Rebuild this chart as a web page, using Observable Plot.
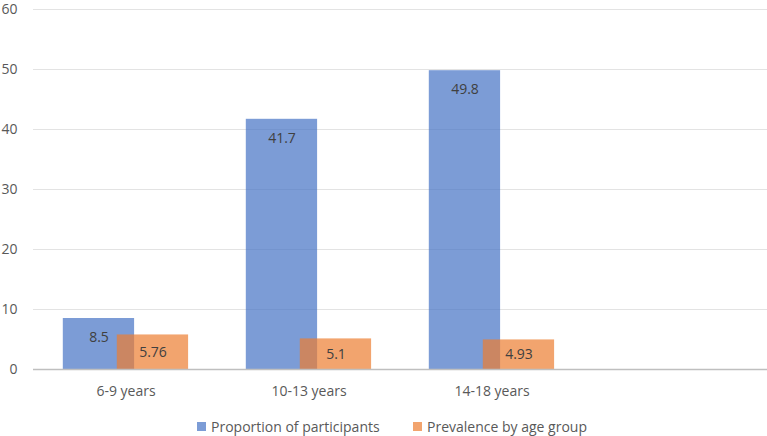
<!DOCTYPE html>
<html>
<head>
<meta charset="utf-8">
<script src="https://cdn.jsdelivr.net/npm/d3@7"></script>
<script src="https://cdn.jsdelivr.net/npm/@observablehq/plot@0.6"></script>
<style>
  html, body { margin: 0; padding: 0; background: #fff; }
  body { width: 767px; height: 436px; overflow: hidden; font-family: "Open Sans", sans-serif; }
  #legend { height: 31px; color: #595959; font-size: 14px; position: relative; }
  .item { display: flex; align-items: center; position: absolute; }
  .sw { width: 9px; height: 9px; margin-right: 5px; display: inline-block; }
</style>
</head>
<body>
<div id="chart"></div>
<div id="legend"></div>
<script>
const categories = ["6-9 years", "10-13 years", "14-18 years", ""];
const proportion = [8.5, 41.7, 49.8];
const prevalence = [5.76, 5.1, 4.93];
const seriesNames = ["Proportion of participants", "Prevalence by age group"];
const yTicks = [0, 10, 20, 30, 40, 50, 60];

const blue = "#4472c4", orange = "#ed7d31";
const propData = proportion.map((v, i) => ({cat: categories[i], value: v}));
const prevData = prevalence.map((v, i) => ({cat: categories[i], value: v}));

const chart = Plot.plot({
  width: 767,
  height: 405,
  marginTop: 9,
  marginBottom: 36,
  marginLeft: 33,
  marginRight: 0,
  style: {fontFamily: "Open Sans, sans-serif", fontSize: "14px", color: "#595959", background: "#fff"},
  x: {domain: categories, padding: 0, label: null},
  y: {domain: [0, 60], ticks: yTicks, label: null},
  marks: [
    Plot.gridY(yTicks, {stroke: "#e3e3e3", strokeOpacity: 1}),
    Plot.axisY(yTicks, {tickSize: 0, tickPadding: 16, fill: "#595959", label: null}),
    Plot.axisX({tickSize: 0, tickPadding: 17, fill: "#595959", label: null, tickFormat: d => d}),
    Plot.barY(propData, {x: "cat", y: "value", fill: blue, fillOpacity: 0.7, insetLeft: 28.8, insetRight: 82.9}),
    Plot.barY(prevData, {x: "cat", y: "value", fill: orange, fillOpacity: 0.7, insetLeft: 82.8, insetRight: 28.9}),
    Plot.ruleY([0], {stroke: "#bfbfbf", strokeWidth: 1.5}),
    Plot.text(propData, {x: "cat", y: "value", text: d => String(d.value), dx: -27, dy: 19, fill: "#404040", fontSize: 14}),
    Plot.text(prevData, {x: "cat", y: d => d.value / 2, text: d => String(d.value), dx: 27, fill: "#404040", fontSize: 14})
  ]
});
document.getElementById("chart").appendChild(chart);

const legend = document.getElementById("legend");
const colors = [blue, orange];
const lefts = [197, 413];
seriesNames.forEach((name, i) => {
  const it = document.createElement("div");
  it.className = "item";
  it.style.left = lefts[i] + "px";
  it.style.top = "12px";
  const sw = document.createElement("span");
  sw.className = "sw";
  sw.style.background = colors[i];
  sw.style.opacity = 0.7;
  const t = document.createElement("span");
  t.textContent = name;
  it.appendChild(sw);
  it.appendChild(t);
  legend.appendChild(it);
});
</script>
</body>
</html>
